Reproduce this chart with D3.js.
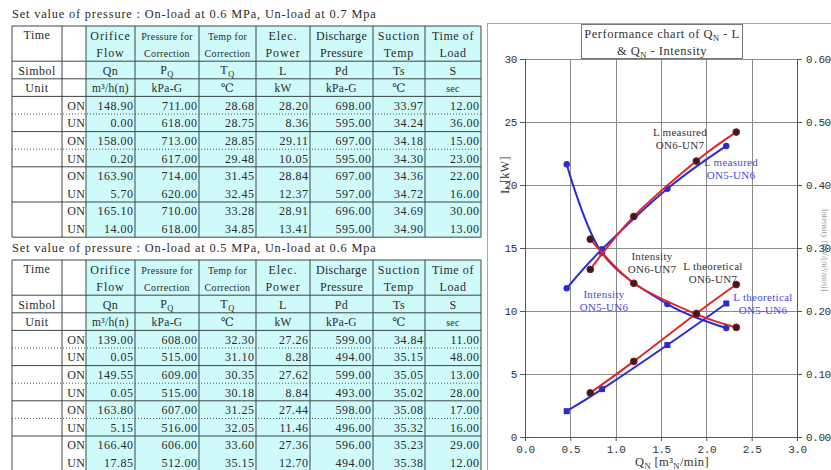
<!DOCTYPE html>
<html>
<head>
<meta charset="utf-8">
<script src="https://cdn.jsdelivr.net/npm/d3@7"></script>
<style>
  html, body { margin: 0; padding: 0; background: #fff; }
  svg { display: block; }
</style>
</head>
<body>
<svg id="sheet" width="831" height="470"></svg>
<script>
// ---- Test records: set pressure On-load 0.6 MPa / Un-load 0.7 MPa ----
const modes = ["ON", "UN", "ON", "UN", "ON", "UN", "ON", "UN"];
const flow1  = [148.90, 0.00, 158.00, 0.20, 163.90, 5.70, 165.10, 14.00];
const pq1    = [711.00, 618.00, 713.00, 617.00, 714.00, 620.00, 710.00, 618.00];
const tq1    = [28.68, 28.75, 28.85, 29.48, 31.45, 32.45, 33.28, 34.85];
const power1 = [28.20, 8.36, 29.11, 10.05, 28.84, 12.37, 28.91, 13.41];
const pd1    = [698.00, 595.00, 697.00, 595.00, 697.00, 597.00, 696.00, 595.00];
const ts1    = [33.97, 34.24, 34.18, 34.30, 34.36, 34.72, 34.69, 34.90];
const load1  = [12.00, 36.00, 15.00, 23.00, 22.00, 16.00, 30.00, 13.00];

// ---- Test records: set pressure On-load 0.5 MPa / Un-load 0.6 MPa ----
const flow2  = [139.00, 0.05, 149.55, 0.05, 163.80, 5.15, 166.40, 17.85];
const pq2    = [608.00, 515.00, 609.00, 515.00, 607.00, 516.00, 606.00, 512.00];
const tq2    = [32.30, 31.10, 30.35, 30.18, 31.25, 32.05, 33.60, 35.15];
const power2 = [27.26, 8.28, 27.62, 8.84, 27.44, 11.46, 27.36, 12.70];
const pd2    = [599.00, 494.00, 599.00, 493.00, 598.00, 496.00, 596.00, 494.00];
const ts2    = [34.84, 35.15, 35.05, 35.02, 35.08, 35.32, 35.23, 35.38];
const load2  = [11.00, 48.00, 13.00, 28.00, 17.00, 16.00, 29.00, 12.00];

// ---- Performance chart series ----
const qOn6      = [0.72, 1.20, 1.89, 2.33];
const lMeasOn6  = [13.3, 17.5, 21.9, 24.2];
const lTheoOn6  = [3.5, 6.0, 9.8, 12.1];
const intenOn6  = [0.314, 0.244, 0.195, 0.174];

const qOn5      = [0.46, 0.85, 1.57, 2.22];
const lMeasOn5  = [11.8, 14.9, 19.7, 23.1];
const lTheoOn5  = [2.05, 3.8, 7.3, 10.6];
const intenOn5  = [0.433, 0.292, 0.211, 0.173];

const xTicks  = [0, 0.5, 1.0, 1.5, 2.0, 2.5, 3.0];
const yTicks  = [0, 5, 10, 15, 20, 25, 30];
const y2Ticks = [0, 0.1, 0.2, 0.3, 0.4, 0.5, 0.6];

const svg = d3.select("#sheet");
svg.append("rect").attr("width", 831).attr("height", 470).attr("fill", "#fff");

const SERIF = "'Liberation Serif', 'DejaVu Serif', serif";
const MONO = "'Liberation Mono', 'DejaVu Sans Mono', monospace";
const ink = "#2a2a2a";

// ================= Tables =================
const colX = [12, 62, 86, 135, 199, 256, 310, 373, 425, 481];
const rowH = 17.6;

function cellText(g, x, y, txt, anchor, size, sub, spacing) {
  const t = g.append("text")
    .attr("x", x).attr("y", y)
    .attr("text-anchor", anchor)
    .attr("font-family", SERIF)
    .attr("font-size", size)
    .attr("letter-spacing", spacing == null ? 0.5 : spacing)
    .attr("fill", ink)
    .text(txt);
  if (sub) {
    t.append("tspan").attr("font-size", size * 0.7).attr("dy", 3).text(sub);
  }
  return t;
}

function drawTable(top, title, columns, dottedGroups) {
  const g = svg.append("g");
  const nRows = 12;
  const bottom = top + nRows * rowH;
  const ry = i => top + i * rowH;

  cellText(g, colX[0], top - 8, title, "start", 12.3, null, 0.85);

  // shaded measurement columns
  g.append("rect")
    .attr("x", colX[2]).attr("y", top)
    .attr("width", colX[9] - colX[2]).attr("height", bottom - top)
    .attr("fill", "#cffafa");

  // solid horizontal rules
  [0, 2, 3, 4, 6, 8, 10, 12].forEach(i => {
    g.append("line")
      .attr("x1", colX[0]).attr("x2", colX[9])
      .attr("y1", ry(i)).attr("y2", ry(i))
      .attr("stroke", "#3c4646").attr("stroke-width", 1);
  });
  // dotted rules between ON and UN rows
  dottedGroups.forEach(k => {
    const i = 5 + 2 * k;
    g.append("line")
      .attr("x1", colX[0]).attr("x2", colX[9])
      .attr("y1", ry(i)).attr("y2", ry(i))
      .attr("stroke", "#555").attr("stroke-width", 1)
      .attr("stroke-dasharray", "1,2");
  });
  // vertical rules
  colX.forEach(x => {
    g.append("line")
      .attr("x1", x).attr("x2", x)
      .attr("y1", top).attr("y2", bottom)
      .attr("stroke", "#3c4646").attr("stroke-width", 1);
  });

  const mid = (a, b) => (colX[a] + colX[b]) / 2;
  const base = i => ry(i) + rowH / 2 + 4.5;

  // header
  cellText(g, mid(0, 1), base(0), "Time", "middle", 12);
  const head1 = ["Orifice", "Pressure for", "Temp for", "Elec.", "Discharge", "Suction", "Time of"];
  const head2 = ["Flow", "Correction", "Correction", "Power", "Pressure", "Temp", "Load"];
  const headSize = [12, 10, 10, 12, 12, 12, 12];
  const headSp = [0.9, 0.3, 0.3, 0.9, 0.3, 0.8, 0.6];
  head1.forEach((h, j) => cellText(g, mid(j + 2, j + 3), base(0) + 0.5, h, "middle", headSize[j], null, headSp[j]));
  head2.forEach((h, j) => cellText(g, mid(j + 2, j + 3), base(1), h, "middle", headSize[j], null, headSp[j]));

  cellText(g, mid(0, 1), base(2), "Simbol", "middle", 12);
  const sym = [["Qn"], ["P", "Q"], ["T", "Q"], ["L"], ["Pd"], ["Ts"], ["S"]];
  sym.forEach((s, j) => cellText(g, mid(j + 2, j + 3), base(2) - (s[1] ? 1 : 0), s[0], "middle", 12, s[1]));

  cellText(g, mid(0, 1), base(3), "Unit", "middle", 12);
  const unit = ["m³/h(n)", "kPa-G", "℃", "kW", "kPa-G", "℃", "sec"];
  unit.forEach((u, j) => cellText(g, mid(j + 2, j + 3), base(3), u, "middle", u === "sec" ? 10 : 11.5, null, 0.3));

  // body
  modes.forEach((m, r) => {
    cellText(g, colX[2] - 1, base(4 + r), m, "end", 12, null, 0.2);
    columns.forEach((col, j) => {
      cellText(g, colX[j + 3] - 1.5, base(4 + r), col[r].toFixed(2), "end", 12);
    });
  });
}

drawTable(26, "Set value of pressure : On-load at 0.6 MPa, Un-load at 0.7 Mpa",
  [flow1, pq1, tq1, power1, pd1, ts1, load1], [0, 1]);
drawTable(260, "Set value of pressure : On-load at 0.5 MPa, Un-load at 0.6 Mpa",
  [flow2, pq2, tq2, power2, pd2, ts2, load2], [0, 1, 2]);

// ================= Chart =================
const frame = svg.append("g");
frame.append("rect")
  .attr("x", 487.5).attr("y", 23.5).attr("width", 400).attr("height", 460)
  .attr("fill", "#fff").attr("stroke", "#a8a8a8");

const x = d3.scaleLinear().domain([0, 3]).range([525, 797]);
const y = d3.scaleLinear().domain([0, 30]).range([437, 59]);
const y2 = d3.scaleLinear().domain([0, 0.6]).range([437, 59]);

const chart = svg.append("g");

// right-hand axis title at the page edge
chart.append("text")
  .attr("transform", `translate(822,250) rotate(90)`)
  .attr("text-anchor", "middle")
  .attr("font-family", SERIF).attr("font-size", 8.5).attr("fill", "#9a9a9a")
  .text("Intensity [kW/(m³/min)]");

// gridlines
chart.append("g").selectAll("line").data(xTicks).join("line")
  .attr("x1", d => Math.round(x(d)) + 0.5).attr("x2", d => Math.round(x(d)) + 0.5)
  .attr("y1", y(30)).attr("y2", y(0))
  .attr("stroke", "#8a8a8a").attr("stroke-width", 1);
chart.append("g").selectAll("line").data(yTicks).join("line")
  .attr("x1", x(0)).attr("x2", x(3))
  .attr("y1", d => Math.round(y(d)) + 0.5).attr("y2", d => Math.round(y(d)) + 0.5)
  .attr("stroke", "#8a8a8a").attr("stroke-width", 1);

// axes
const axL = d3.axisLeft(y).tickValues(yTicks).tickSize(5).tickPadding(3).tickFormat(d3.format("d"));
const axR = d3.axisRight(y2).tickValues(y2Ticks).tickSize(5).tickPadding(4).tickFormat(d3.format(".2f"));
const axB = d3.axisBottom(x).tickValues(xTicks).tickSize(4).tickPadding(4).tickFormat(d3.format(".1f"));

function styleAxis(sel) {
  sel.select(".domain").attr("stroke", "#555");
  sel.selectAll(".tick line").attr("stroke", "#555");
  sel.selectAll(".tick text")
    .attr("font-family", MONO).attr("font-size", 11)
    .attr("fill", "#333").attr("letter-spacing", "-0.4");
}
chart.append("g").attr("transform", `translate(${x(0)},0)`).call(axL).call(styleAxis);
chart.append("g").attr("transform", `translate(${x(3)},0)`).call(axR).call(styleAxis);
chart.append("g").attr("transform", `translate(0,${y(0)})`).call(axB).call(styleAxis);

// axis titles
chart.append("text")
  .attr("transform", `translate(509,175) rotate(-90)`)
  .attr("text-anchor", "middle")
  .attr("font-family", SERIF).attr("font-size", 12).attr("fill", "#333")
  .attr("letter-spacing", 0.4)
  .text("L  [kW]");
const xt = chart.append("text")
  .attr("x", 672).attr("y", 466)
  .attr("text-anchor", "middle")
  .attr("font-family", SERIF).attr("font-size", 12.5).attr("fill", "#333")
  .attr("letter-spacing", 0.4);
xt.append("tspan").text("Q");
xt.append("tspan").attr("font-size", 8.5).attr("dy", 3).text("N");
xt.append("tspan").attr("dy", -3).text("  [m³");
xt.append("tspan").attr("font-size", 8.5).attr("dy", 3).text("N");
xt.append("tspan").attr("dy", -3).text("/min]");

// title box
const tb = chart.append("g");
tb.append("rect")
  .attr("x", 581.5).attr("y", 24.5).attr("width", 161).attr("height", 34)
  .attr("fill", "#fff").attr("stroke", "#777");
function qLine(yy, pre, post) {
  const t = tb.append("text").attr("x", 662).attr("y", yy)
    .attr("text-anchor", "middle")
    .attr("font-family", SERIF).attr("font-size", 12.5).attr("fill", "#333")
    .attr("letter-spacing", 0.5);
  t.append("tspan").text(pre + "Q");
  t.append("tspan").attr("font-size", 8.5).attr("dy", 2.5).text("N");
  t.append("tspan").attr("dy", -2.5).text(post);
}
qLine(38, "Performance chart of ", " - L");
qLine(55, "&  ", " - Intensity");

// series labels (behind the curves)
const labels = [
  { x: 680, y: 136, t1: "L measured", t2: "ON6-UN7", c: "#333" },
  { x: 731, y: 166, t1: "L measured", t2: "ON5-UN6", c: "#4a4ad8" },
  { x: 652, y: 260, t1: "Intensity", t2: "ON6-UN7", c: "#333" },
  { x: 713, y: 270, t1: "L theoretical", t2: "ON6-UN7", c: "#333" },
  { x: 604, y: 298, t1: "Intensity", t2: "ON5-UN6", c: "#4a4ad8" },
  { x: 763, y: 301, t1: "L theoretical", t2: "ON5-UN6", c: "#4a4ad8" }
];
labels.forEach(l => {
  const t = chart.append("text").attr("text-anchor", "middle")
    .attr("font-family", SERIF).attr("font-size", 11).attr("fill", l.c)
    .attr("letter-spacing", 0.3);
  t.append("tspan").attr("x", l.x).attr("y", l.y).text(l.t1);
  t.append("tspan").attr("x", l.x).attr("y", l.y + 12.5).text(l.t2);
});

const RED = "#e0262a", BLUE = "#2b2bd0";
function series(qs, vals, scale, color, marker) {
  const pts = qs.map((q, i) => [x(q), scale(vals[i])]);
  chart.append("path")
    .attr("d", d3.line().curve(d3.curveCardinal.tension(0))(pts))
    .attr("fill", "none").attr("stroke", color).attr("stroke-width", 2);
  const mg = chart.append("g");
  pts.forEach(p => {
    if (marker === "square") {
      mg.append("rect").attr("x", p[0] - 3).attr("y", p[1] - 3)
        .attr("width", 6).attr("height", 6).attr("fill", BLUE);
    } else if (marker === "blueDot") {
      mg.append("circle").attr("cx", p[0]).attr("cy", p[1]).attr("r", 3.2).attr("fill", BLUE);
    } else {
      mg.append("circle").attr("cx", p[0]).attr("cy", p[1]).attr("r", 3.4)
        .attr("fill", "#3a1a1a").attr("stroke", "#8a1c1c").attr("stroke-width", 1);
    }
  });
}

series(qOn5, lTheoOn5, y, BLUE, "square");
series(qOn5, lMeasOn5, y, BLUE, "blueDot");
series(qOn5, intenOn5, y2, BLUE, "blueDot");
series(qOn6, lTheoOn6, y, RED, "dark");
series(qOn6, lMeasOn6, y, RED, "dark");
series(qOn6, intenOn6, y2, RED, "dark");
</script>
</body>
</html>
